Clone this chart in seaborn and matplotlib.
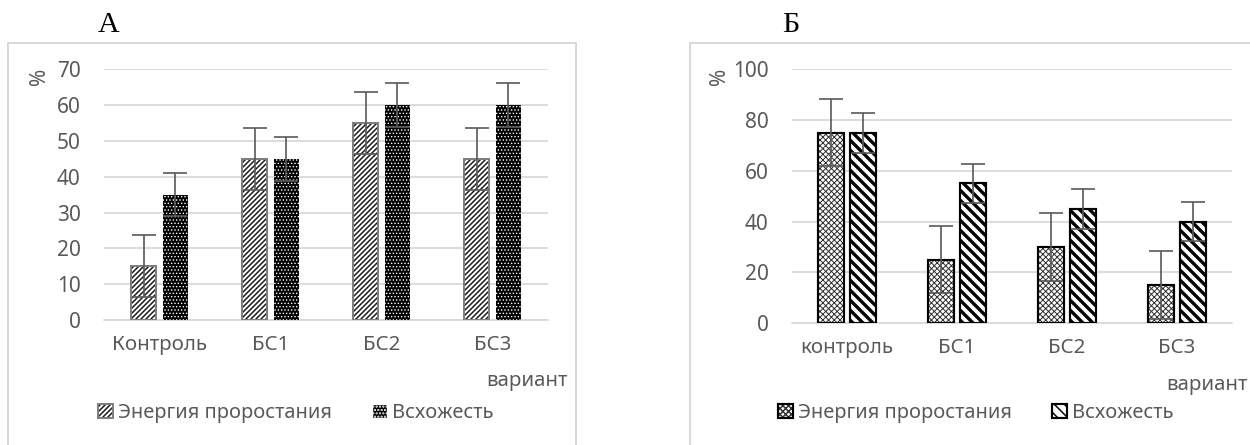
import matplotlib
matplotlib.use("Agg")
import matplotlib.pyplot as plt
from matplotlib.patches import Rectangle, Patch
import pandas as pd
import seaborn as sns

# ---------------- data ----------------
series_names = ["Энергия проростания", "Всхожесть"]

categories_a = ["Контроль", "БС1", "БС2", "БС3"]
energy_a = [15, 45, 55, 45]
germ_a = [35, 45, 60, 60]
err_energy_a = [8.7, 8.7, 8.7, 8.7]
err_germ_a = [6.1, 6.1, 6.1, 6.1]
yticks_a = [0, 10, 20, 30, 40, 50, 60, 70]

categories_b = ["контроль", "БС1", "БС2", "БС3"]
energy_b = [75, 25, 30, 15]
germ_b = [75, 55, 45, 40]
err_energy_b = [13.3, 13.3, 13.3, 13.3]
err_germ_b = [7.8, 7.8, 7.8, 7.8]
yticks_b = [0, 20, 40, 60, 80, 100]

axis_title = "вариант"
panel_labels = ["А", "Б"]

# ---------------- style ----------------
sns.set_theme(style="white")
FONT = ["Noto Sans", "DejaVu Sans"]
plt.rcParams["font.family"] = FONT
TXT = "#595959"
GRID = "#d9d9d9"
DPI = 120
W, H = 1250, 445
FS_TICK = 12.5
FS_CAT = 12.3
FS_LEG = 12.0

fig = plt.figure(figsize=(W / DPI, H / DPI), dpi=DPI)
fig.patch.set_facecolor("white")


def fx(px):
    return px / W


def fy(py):
    return 1 - py / H


def set_hlw(p, lw):
    if hasattr(p, "set_hatch_linewidth"):
        p.set_hatch_linewidth(lw)


# styles per panel: (face, hatchcolor, hatch, hatch_lw, outline_color, outline_lw)
styles_a = [
    ("white", "#1a1a1a", "////////", 0.9, "#7f7f7f", 1.2),
    ("black", "white", "......", 0.5, "black", 0.0),
]
styles_b = [
    ("white", "#333333", "xxxxxxx", 0.6, "black", 1.3),
    ("white", "black", "\\\\\\\\", 2.0, "black", 1.3),
]


def panel(rect_px, cats, e, g, ee, eg, yticks, styles, pct_xy, title_xy, legend_xy):
    x0, x1, ytop, ybot = rect_px
    ax = fig.add_axes([fx(x0), fy(ybot), fx(x1) - fx(x0), fy(ytop) - fy(ybot)])
    df = pd.DataFrame({
        "variant": cats * 2,
        "series": [series_names[0]] * len(cats) + [series_names[1]] * len(cats),
        "value": list(e) + list(g),
    })
    sns.barplot(data=df, x="variant", y="value", hue="series", order=cats,
                hue_order=series_names, width=0.576, gap=0.19, ax=ax,
                legend=False, palette=["white", "black"], errorbar=None,
                saturation=1)
    errs = [ee, eg]
    for i, cont in enumerate(ax.containers[:2]):
        face, hc, hatch, hlw, oc, olw = styles[i]
        xs, ys = [], []
        for bar in cont:
            bar.set_facecolor(face)
            bar.set_edgecolor(hc)
            bar.set_hatch(hatch)
            bar.set_linewidth(0)
            set_hlw(bar, hlw)
            bar.set_zorder(2)
            if olw > 0:
                ax.add_patch(Rectangle(bar.get_xy(), bar.get_width(), bar.get_height(),
                                       fill=False, edgecolor=oc, linewidth=olw, zorder=3))
            xs.append(bar.get_x() + bar.get_width() / 2)
            ys.append(bar.get_height())
        ax.errorbar(xs, ys, yerr=errs[i], fmt="none", ecolor=TXT, elinewidth=1.0,
                    capsize=7, capthick=1.0, zorder=4)
    ax.set_ylim(yticks[0], yticks[-1])
    ax.set_yticks(yticks)
    ax.set_xlim(-0.5, len(cats) - 0.5)
    ax.set_xlabel("")
    ax.set_ylabel("")
    for s in ax.spines.values():
        s.set_visible(False)
    ax.yaxis.grid(True, color=GRID, linewidth=1.1)
    ax.set_axisbelow(True)
    ax.axhline(0, color=GRID, linewidth=1.1, zorder=1, clip_on=False)
    ax.tick_params(axis="y", length=0, labelsize=FS_TICK, labelcolor=TXT, pad=14)
    ax.tick_params(axis="x", length=0, labelsize=FS_CAT, labelcolor=TXT, pad=9)
    ax.set_facecolor("none")

    fig.text(fx(pct_xy[0]), fy(pct_xy[1]), "%", rotation=90, ha="center", va="center",
             color=TXT, fontsize=FS_TICK)
    fig.text(fx(title_xy[0]), fy(title_xy[1]), axis_title, ha="right", va="center",
             color=TXT, fontsize=FS_CAT)

    handles = []
    for face, hc, hatch, hlw, oc, olw in styles:
        h1 = Patch(facecolor=face, edgecolor=hc, hatch=hatch, linewidth=0)
        set_hlw(h1, hlw)
        h2 = Patch(fill=False, edgecolor=oc if olw > 0 else hc, linewidth=max(olw, 0.8))
        handles.append((h1, h2))
    fig.legend(handles, series_names, loc="center",
               bbox_to_anchor=(fx(legend_xy[0]), fy(legend_xy[1])), ncol=2,
               frameon=False, handlelength=0.75, handleheight=0.75,
               handletextpad=0.25, columnspacing=2.0, labelcolor=TXT,
               fontsize=FS_LEG, borderaxespad=0, borderpad=0)
    return ax


plt.rcParams["hatch.linewidth"] = 0.9

panel((104, 548, 69.3, 320), categories_a, energy_a, germ_a, err_energy_a, err_germ_a,
      yticks_a, styles_a, (39, 76), (568, 381), (296, 413))
panel((792, 1232, 69.3, 323), categories_b, energy_b, germ_b, err_energy_b, err_germ_b,
      yticks_b, styles_b, (720, 76), (1248, 385), (976, 413))

# chart frames
fig.add_artist(Rectangle((fx(8), fy(470)), fx(576) - fx(8), fy(43) - fy(470),
                         transform=fig.transFigure, fill=False, edgecolor=GRID,
                         linewidth=1.2))
fig.add_artist(Rectangle((fx(690), fy(470)), fx(1270) - fx(690), fy(43) - fy(470),
                         transform=fig.transFigure, fill=False, edgecolor=GRID,
                         linewidth=1.2))

# panel letters
fig.text(fx(109), fy(25), panel_labels[0], ha="center", va="center",
         family=["Liberation Serif", "DejaVu Serif"], fontsize=18, color="black")
fig.text(fx(791), fy(25), panel_labels[1], ha="center", va="center",
         family=["Liberation Serif", "DejaVu Serif"], fontsize=18, color="black")

fig.savefig("out.png", dpi=DPI, facecolor="white")
